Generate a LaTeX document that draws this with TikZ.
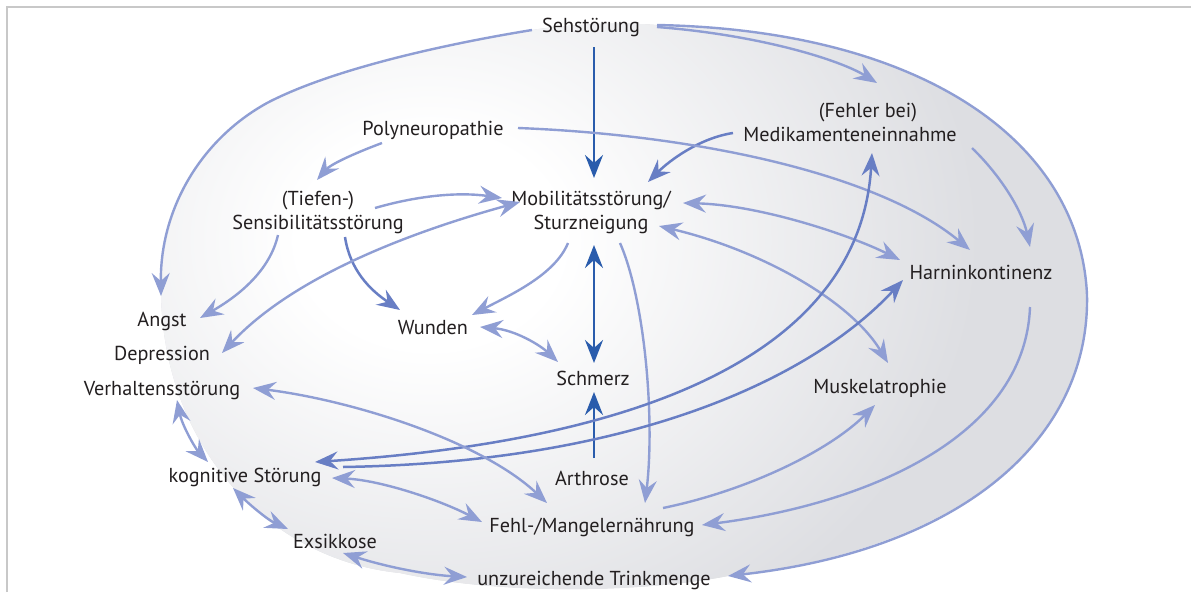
\documentclass[tikz,border=0pt]{standalone}
\usepackage{fontspec}
\setmainfont{PT Sans}
\usetikzlibrary{arrows.meta}
\definecolor{fillgray}{RGB}{221,222,226}
\definecolor{lite}{RGB}{143,158,212}
\definecolor{medi}{RGB}{104,126,196}
\definecolor{dark}{RGB}{42,92,172}
\definecolor{txt}{RGB}{35,31,32}
\definecolor{frame}{RGB}{200,200,200}
\pgfdeclareradialshading{bgshade}{\pgfpoint{0bp}{0bp}}{color(0bp)=(white); color(6bp)=(white); color(25bp)=(fillgray); color(50bp)=(fillgray)}
\begin{document}
\begin{tikzpicture}[x=1pt,y=-1pt,
  >={Stealth[length=23pt,width=18pt,inset=8pt]},
  lbl/.style={inner sep=0pt, anchor=center, text=txt, font=\fontsize{20.2}{24}\selectfont, text height=14pt, text depth=4pt},
  lbltwo/.style={inner sep=0pt, anchor=center, text=txt, font=\fontsize{20.2}{24}\selectfont, align=center},
  litel/.style={draw=lite, line width=2.4pt},
  medil/.style={draw=medi, line width=2.5pt},
  darkl/.style={draw=dark, line width=2.8pt},
  framel/.style={draw=frame, line width=1.5pt}
]
\useasboundingbox (0,0) rectangle (1191,592);
% frame
\draw[framel] (7,592) -- (7,7) -- (1191,7);
% background shape
\begin{scope}
\clip (161,296) .. controls (160,210) and (200,140) .. (267,103)
  .. controls (330,70) and (440,45) .. (532,30)
  .. controls (570,24) and (620,22) .. (657,25)
  .. controls (920,30) and (1080,140) .. (1087,295)
  .. controls (1090,440) and (960,550) .. (728,576)
  .. controls (640,593) and (500,595) .. (400,573)
  .. controls (270,560) and (165,450) .. (161,296) -- cycle;
\fill[fillgray] (0,0) rectangle (1191,592);
\shade[shading=bgshade] (430,240) ellipse [x radius=550, y radius=450];
\end{scope}
% nodes
\node[lbl] (seh) at (591,27) {Sehstörung};
\node[lbl] (poly) at (433,130) {Polyneuropathie};
\node[lbltwo] (med) at (850,122) {\hspace*{36pt}(Fehler bei)\\Medikamenteneinnahme};
\node[lbltwo] (sens) at (318,212) {(Tiefen-)\\Sensibilitätsstörung};
\node[lbltwo] (mob) at (591,212.5) {Mobilitätsstörung/\\Sturzneigung};
\node[lbl] (harn) at (981,274) {Harninkontinenz};
\node[lbl] (angst) at (162,321) {Angst};
\node[lbl] (dep) at (162,355) {Depression};
\node[lbl] (verh) at (162,390) {Verhaltensstörung};
\node[lbl] (wund) at (433,329) {Wunden};
\node[lbl] (schm) at (593,380) {Schmerz};
\node[lbl] (musk) at (880,388) {Muskelatrophie};
\node[lbl] (kog) at (245,477) {kognitive Störung};
\node[lbl] (arth) at (592,480) {Arthrose};
\node[lbl] (fehl) at (592,527) {Fehl-/Mangelernährung};
\node[lbl] (exs) at (335,543) {Exsikkose};
\node[lbl] (trink) at (594,580) {unzureichende Trinkmenge};
% outer connectors
\draw[litel,->] ([shift={(-59,3)}]seh.center) .. controls (440,45) and (330,70) .. (267,103)
  .. controls (200,140) and (160,210) .. ([shift={(-1,-25)}]angst.center);
\draw[litel,->] ([shift={(66,-2)}]seh.center) .. controls (920,30) and (1080,140) .. (1087,295)
  .. controls (1090,440) and (960,550) .. ([shift={(134,-4)}]trink.center);
% top
\draw[darkl,->] ([shift={(3,20)}]seh.center) -- ([shift={(3,-34.5)}]mob.center);
\draw[litel,->] ([shift={(66,0)}]seh.center) .. controls (760,35) and (840,60) .. ([shift={(27,-39)}]med.center);
\draw[medil,->] ([shift={(-117,11)}]med.center) .. controls (700,138) and (670,160) .. ([shift={(57,-30.5)}]mob.center);
\draw[litel,->] ([shift={(-51,13)}]poly.center) .. controls (350,155) and (330,165) .. ([shift={(-1,-32)}]sens.center);
\draw[litel,->] ([shift={(85,-2)}]poly.center) .. controls (700,135) and (880,175) .. ([shift={(-11,-24)}]harn.center);
\draw[litel,->] ([shift={(122,26)}]med.center) .. controls (1000,175) and (1022,210) .. ([shift={(49,-27)}]harn.center);
% sensibility
\draw[litel,->] ([shift={(57,-4)}]sens.center) .. controls (420,195) and (460,192) .. ([shift={(-89,-14.5)}]mob.center);
\draw[litel,->] ([shift={(-40,23)}]sens.center) .. controls (270,270) and (240,295) .. ([shift={(38,-3)}]angst.center);
\draw[medil,->] ([shift={(27,25)}]sens.center) .. controls (350,270) and (370,290) .. ([shift={(-33,-19)}]wund.center);
% mobility
\draw[litel,<->] ([shift={(60,-2)}]dep.center) .. controls (290,280) and (400,235) .. ([shift={(-71,-10.5)}]mob.center);
\draw[litel,->] ([shift={(-23,30.5)}]mob.center) .. controls (555,275) and (510,295) .. ([shift={(39,-14)}]wund.center);
\draw[darkl,<->] ([shift={(3,32.5)}]mob.center) -- ([shift={(1,-17)}]schm.center);
\draw[darkl,->] ([shift={(2,-22)}]arth.center) -- ([shift={(1,12)}]schm.center);
\draw[litel,<->] ([shift={(47,-2)}]wund.center) .. controls (515,330) and (540,345) .. ([shift={(-35,-18)}]schm.center);
\draw[litel,->] ([shift={(29,30.5)}]mob.center) .. controls (645,300) and (655,420) .. ([shift={(53,-24)}]fehl.center);
\draw[litel,<->] ([shift={(92,-9.5)}]mob.center) .. controls (760,205) and (850,235) .. ([shift={(-81,-14)}]harn.center);
\draw[litel,<->] ([shift={(68,13.5)}]mob.center) .. controls (760,250) and (850,300) .. ([shift={(8,-25)}]musk.center);
% long cognitive lines
\draw[medil,<->] ([shift={(70,-15)}]kog.center) .. controls (650,440) and (860,350) .. ([shift={(22,31)}]med.center);
\draw[medil,->] ([shift={(98,-10)}]kog.center) .. controls (650,462) and (820,370) .. ([shift={(-78,6)}]harn.center);
% left rim
\draw[litel,<->] ([shift={(15,10)}]verh.center) .. controls (182,425) and (195,448) .. ([shift={(-37,-15)}]kog.center);
\draw[litel,<->] ([shift={(-12,11)}]kog.center) .. controls (250,505) and (268,520) .. ([shift={(-47,-14)}]exs.center);
\draw[litel,<->] ([shift={(8,10)}]exs.center) .. controls (390,568) and (430,575) .. ([shift={(-127,-3)}]trink.center);
% lower
\draw[litel,<->] ([shift={(91,-2)}]verh.center) .. controls (350,400) and (480,440) .. ([shift={(-45,-24)}]fehl.center);
\draw[litel,<->] ([shift={(87,1)}]kog.center) .. controls (380,480) and (440,500) .. ([shift={(-110,-5)}]fehl.center);
\draw[litel,->] ([shift={(71,-19)}]fehl.center) .. controls (750,490) and (830,450) .. ([shift={(-5,17)}]musk.center);
\draw[litel,->] ([shift={(49,33)}]harn.center) .. controls (1025,440) and (860,505) .. ([shift={(110,-2)}]fehl.center);
\end{tikzpicture}
\end{document}
